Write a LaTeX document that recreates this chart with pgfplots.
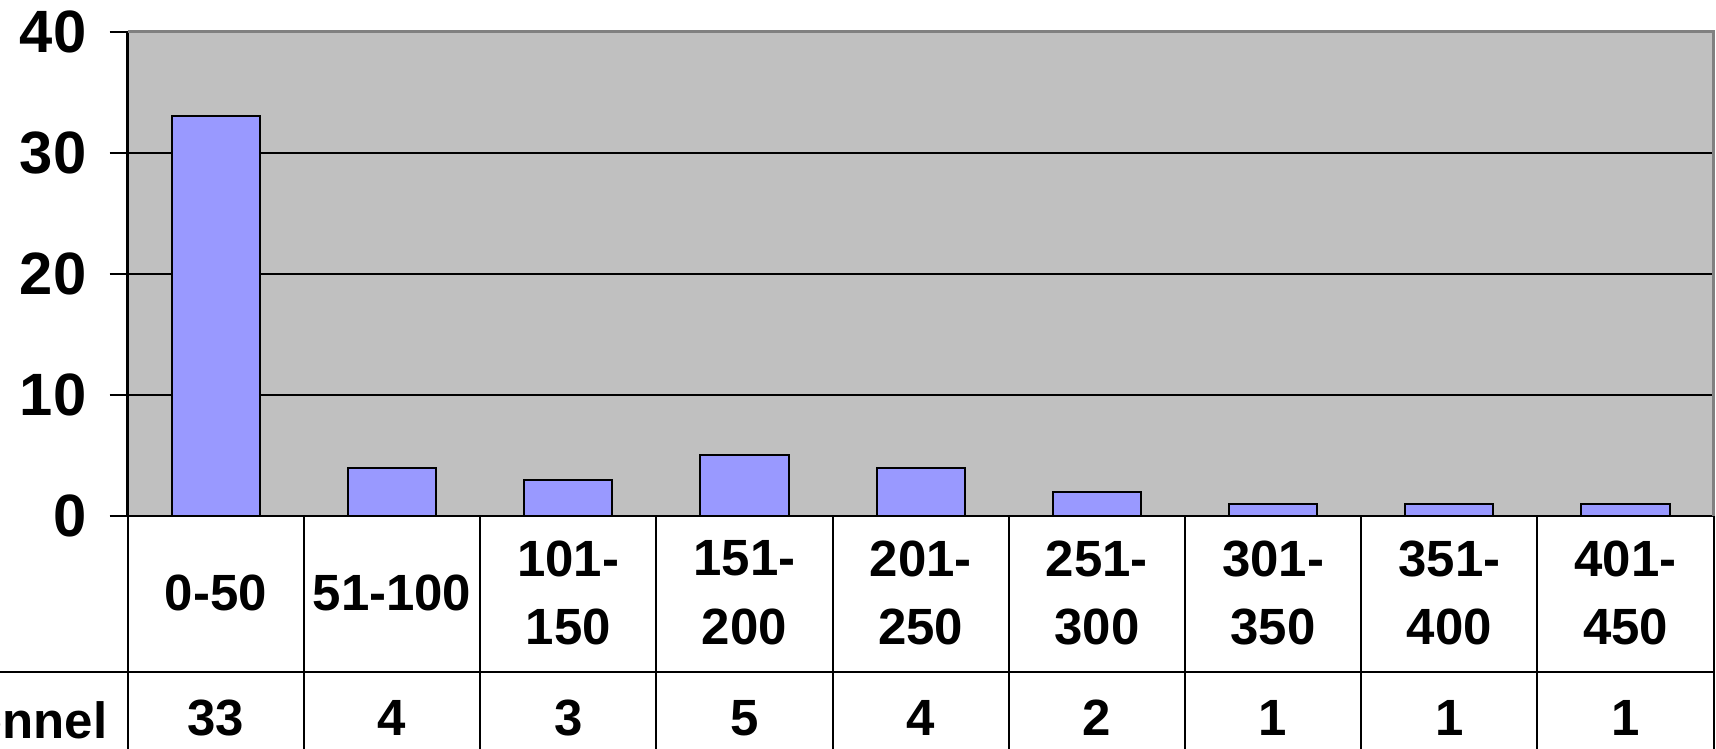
\documentclass[border=0pt]{standalone}
\usepackage{pgfplots}
\pgfplotsset{compat=1.18}
\usepackage{fontspec}
\setmainfont{Liberation Sans}
\definecolor{plotbg}{HTML}{C0C0C0}
\definecolor{barfill}{HTML}{9999FF}
\definecolor{frame}{HTML}{808080}

\begin{document}
\begin{tikzpicture}
\path[use as bounding box, clip] (0,0) rectangle (171.6mm,74.9mm);
\begin{axis}[
  at={(12.77mm,23.3mm)}, anchor=south west,
  scale only axis, width=158.6mm, height=48.43mm,
  xmin=-0.5, xmax=8.5, ymin=0, ymax=40,
  axis lines=left, axis line style={-, black, line width=0.25mm},
  axis background/.style={fill=plotbg},
  ymajorgrids, grid style={black, line width=0.2mm},
  ytick={0,10,20,30,40}, yticklabels={0,10,20,30,40},
  ytick style={black, line width=0.2mm},
  tick align=outside, major tick length=1.8mm,
  yticklabel style={font=\fontsize{17}{20}\selectfont\bfseries, xshift=-1.1mm},
  xtick={0,...,8}, xtick style={draw=none},
  xticklabels={0-50,51-100,101-\\150,151-\\200,201-\\250,251-\\300,301-\\350,351-\\400,401-\\450},
  xticklabel style={font=\fontsize{14.5}{19.5}\selectfont\bfseries, align=center, anchor=center, yshift=-5.9mm},
  extra x ticks={0,...,8},
  extra x tick labels={33,4,3,5,4,2,1,1,1},
  extra x tick style={xtick style={draw=none}, grid=none,
    xticklabel style={font=\fontsize{14.5}{18}\selectfont\bfseries, anchor=center, yshift=-12.5mm}},
  clip=false,
]
\addplot[ybar, bar width=8.83mm, fill=barfill, draw=black, line width=0.2mm]
  coordinates {(0,33) (1,4) (2,3) (3,5) (4,4) (5,2) (6,1) (7,1) (8,1)};
\draw[frame, line width=0.25mm] (rel axis cs:0,1) -- (rel axis cs:1,1) -- (rel axis cs:1,0);
\end{axis}
% data table lines under the chart
\foreach \k in {0,...,9}
  \draw[black, line width=0.2mm] (12.77mm+\k*17.62mm,23.3mm) -- (12.77mm+\k*17.62mm,0);
\draw[black, line width=0.2mm] (0,7.7mm) -- (171.4mm,7.7mm);
\node[anchor=east, font=\fontsize{14.5}{18}\selectfont\bfseries, inner sep=0] at (10.8mm,2.9mm) {Personnel};
\end{tikzpicture}
\end{document}
